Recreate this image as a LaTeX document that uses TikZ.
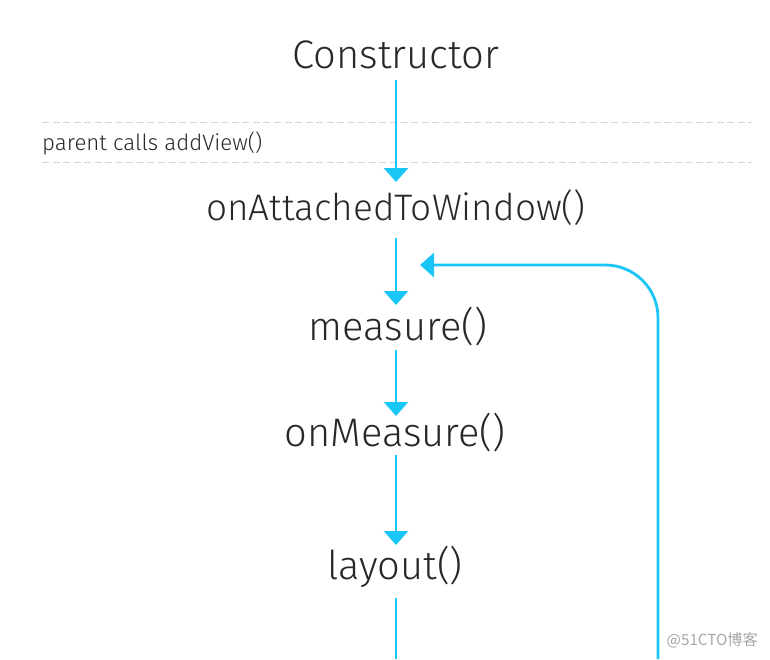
\documentclass[tikz,border=0pt]{standalone}
\usepackage{fontspec}
\setmainfont{Fira Sans Light}
\newfontfamily\cjkfont{Noto Sans CJK SC}
\usetikzlibrary{arrows.meta,positioning}
\definecolor{flowcolor}{RGB}{25, 198, 245}
\definecolor{dashcolor}{RGB}{215, 215, 215}
\definecolor{textcolor}{RGB}{40, 40, 40}

\begin{document}
\begin{tikzpicture}[
    x=0.03cm, y=-0.03cm,
    step node/.style={inner sep=0pt, text=textcolor, font=\fontsize{34}{40}\selectfont},
    flow/.style={-{Triangle[width=0.72cm, length=0.42cm]}, line width=2.4pt, flowcolor},
    sep line/.style={dashcolor, line width=0.8pt, dash pattern=on 6pt off 3pt}
]
    \useasboundingbox (0,0) rectangle (770,659);

    % Steps
    \node[step node] (ctor) at (396, 55) {Constructor};
    \node[step node, font=\fontsize{31.5}{36}\selectfont] (attach) at (396, 208) {onAttachedToWindow()};
    \node[step node] (measure) at (398, 327) {measure()};
    \node[step node] (onmeasure) at (395, 433) {onMeasure()};
    \node[step node] (layout) at (395, 567) {layout()};

    % Separator
    \draw[sep line] (42, 122) -- (752, 122);
    \draw[sep line] (42, 162) -- (752, 162);
    \node[anchor=west, inner sep=0pt, text=textcolor, font=\fontsize{19}{22}\selectfont] (parent) at (42, 143) {parent calls addView()};

    % Arrows
    \coordinate (a1) at (396, 80);
    \coordinate (a2) at (396, 182);
    \coordinate (b1) at (396, 238);
    \coordinate (b2) at (396, 305);
    \coordinate (c1) at (396, 350);
    \coordinate (c2) at (396, 416);
    \coordinate (d1) at (396, 455);
    \coordinate (d2) at (396, 545);
    \coordinate (e1) at (396, 598);
    \coordinate (e2) at (396, 659);
    \draw[flow] (a1) -- (a2);
    \draw[flow] (b1) -- (b2);
    \draw[flow] (c1) -- (c2);
    \draw[flow] (d1) -- (d2);
    \draw[flow, -] (e1) -- (e2);

    % Loop back
    \coordinate (loopstart) at (658, 659);
    \coordinate (loopend) at (420, 265);
    \draw[flow, rounded corners=45pt] (loopstart) -- (658, 265) -- (loopend);

    % Watermark
    \node[anchor=east, text=gray!70, font=\cjkfont\fontsize{13}{15}\selectfont] (mark) at (762, 640) {@51CTO博客};
\end{tikzpicture}
\end{document}
